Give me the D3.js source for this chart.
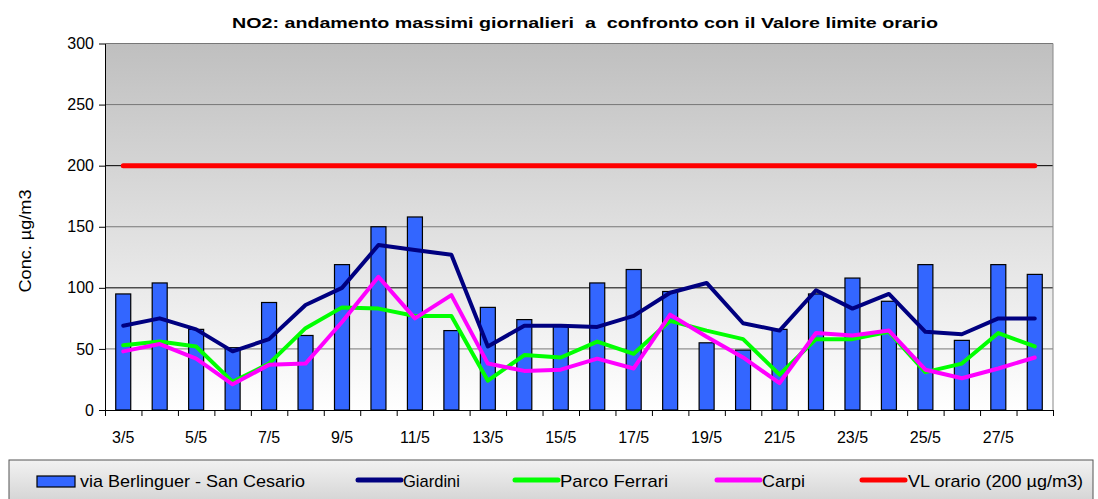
<!DOCTYPE html>
<html>
<head>
<meta charset="utf-8">
<script src="https://cdn.jsdelivr.net/npm/d3@7"></script>
<style>
  body { margin: 0; background: #fff; }
  text { font-family: Arial, "Liberation Sans", sans-serif; }
</style>
</head>
<body>
<div id="chart"></div>
<script>
const days = ['3/5','4/5','5/5','6/5','7/5','8/5','9/5','10/5','11/5','12/5','13/5','14/5','15/5',
  '16/5','17/5','18/5','19/5','20/5','21/5','22/5','23/5','24/5','25/5','26/5','27/5','28/5'];
const berlinguer = [95,104,66,51,88,61,119,150,158,65,84,74,69,104,115,97,55,49,66,95,108,89,119,57,119,111];
const giardini = [69,75,66,48,58,86,100,135,131,127,52,69,69,68,77,96,104,71,65,98,83,95,64,62,75,75];
const parcoFerrari = [53,56,52,23,38,67,84,83,77,77,24,45,43,56,46,73,65,58,29,58,58,64,31,38,63,52];
const carpi = [48,54,42,21,37,38,72,109,75,94,38,32,33,42,34,78,60,43,22,63,61,65,33,26,34,43];
const limitValue = 200;
const yTicks = [0, 50, 100, 150, 200, 250, 300];

const width = 1098, height = 499;
const margin = {top: 43.5, right: 45, bottom: 89, left: 105};
const gWidth = width - margin.left - margin.right;
const gHeight = height - margin.top - margin.bottom;

const svg = d3.select('#chart').append('svg')
  .attr('width', width)
  .attr('height', height);

// gradients for plot area and legend
const defs = svg.append('defs');
const plotGrad = defs.append('linearGradient').attr('id', 'plotBg')
  .attr('x1', 0).attr('y1', 0).attr('x2', 0).attr('y2', 1);
plotGrad.append('stop').attr('offset', '0%').attr('stop-color', '#bfbfbf');
plotGrad.append('stop').attr('offset', '100%').attr('stop-color', '#ffffff');
const legGrad = defs.append('linearGradient').attr('id', 'legBg')
  .attr('x1', 0).attr('y1', 0).attr('x2', 0).attr('y2', 1);
legGrad.append('stop').attr('offset', '0%').attr('stop-color', '#f2f2f2');
legGrad.append('stop').attr('offset', '100%').attr('stop-color', '#d2d2d2');

// title (keeps the double spaces)
svg.append('text')
  .attr('x', 585).attr('y', 28)
  .attr('text-anchor', 'middle')
  .attr('font-size', 15).attr('font-weight', 'bold')
  .style('white-space', 'pre')
  .attr('textLength', 706).attr('lengthAdjust', 'spacingAndGlyphs')
  .text('NO2: andamento massimi giornalieri  a  confronto con il Valore limite orario');

const g = svg.append('g')
  .attr('transform', `translate(${margin.left}, ${margin.top})`);

const x = d3.scaleBand().domain(days).range([0, gWidth]).padding(0);
const xIdx = d3.scaleLinear().domain([0, days.length]).range([0, gWidth]);
const y = d3.scaleLinear().domain([0, 300]).range([gHeight, 0]);

g.append('rect')
  .attr('width', gWidth).attr('height', gHeight)
  .attr('fill', 'url(#plotBg)');

// gridlines
g.selectAll('line.grid')
  .data(yTicks.filter(d => d > 0))
  .enter().append('line')
  .attr('class', 'grid')
  .attr('x1', 0).attr('x2', gWidth)
  .attr('y1', d => y(d)).attr('y2', d => y(d))
  .attr('stroke', d => (d === 100 || d === 200) ? '#000' : '#777')
  .attr('stroke-width', 1);

// right border of plot area
g.append('line')
  .attr('x1', gWidth).attr('x2', gWidth).attr('y1', 0).attr('y2', gHeight)
  .attr('stroke', '#888').attr('stroke-width', 1);

// y axis
const yAxis = g.append('g')
  .call(d3.axisLeft(y).tickValues(yTicks).tickSize(6).tickSizeOuter(0));
yAxis.select('.domain').attr('stroke', '#000');
yAxis.selectAll('text').attr('font-size', 16).attr('fill', '#000').attr('dx', '-2');

svg.append('text')
  .attr('transform', `translate(31, 241) rotate(-90)`)
  .attr('text-anchor', 'middle')
  .attr('font-size', 16)
  .attr('textLength', 103).attr('lengthAdjust', 'spacingAndGlyphs')
  .text('Conc. µg/m3');

// bars
const barW = 15;
g.selectAll('rect.bar')
  .data(berlinguer)
  .enter().append('rect')
  .attr('class', 'bar')
  .attr('x', (d, i) => x(days[i]) + (x.bandwidth() - barW) / 2)
  .attr('y', d => y(d))
  .attr('width', barW)
  .attr('height', d => gHeight - y(d))
  .attr('fill', '#3366ff')
  .attr('stroke', '#000')
  .attr('stroke-width', 1.2);

const cx = i => x(days[i]) + x.bandwidth() / 2;
const line = d3.line().x((d, i) => cx(i)).y(d => y(d));

const series = [
  {values: days.map(() => limitValue), color: '#ff0000', w: 5},
  {values: parcoFerrari, color: '#00ff00', w: 4},
  {values: giardini, color: '#000080', w: 4},
  {values: carpi, color: '#ff00ff', w: 4}
];
series.forEach(s => {
  g.append('path')
    .datum(s.values)
    .attr('d', line)
    .attr('fill', 'none')
    .attr('stroke', s.color)
    .attr('stroke-width', s.w)
    .attr('stroke-linejoin', 'round')
    .attr('stroke-linecap', 'round');
});

// x axis: ticks at band boundaries, labels every other day
const xTicks = g.append('g')
  .attr('transform', `translate(0, ${gHeight})`)
  .call(d3.axisBottom(xIdx).tickValues(d3.range(0, days.length + 1)).tickFormat('').tickSize(6).tickSizeOuter(0));
xTicks.select('.domain').attr('stroke', '#000');
const xLabels = g.append('g')
  .attr('transform', `translate(0, ${gHeight})`)
  .call(d3.axisBottom(x).tickValues(days.filter((d, i) => i % 2 === 0)).tickSize(0));
xLabels.select('.domain').remove();
xLabels.selectAll('text').attr('font-size', 16).attr('fill', '#000').attr('y', 33).attr('dy', 0);

// legend
const legend = svg.append('g');
legend.append('rect')
  .attr('x', 9).attr('y', 460).attr('width', 1084).attr('height', 45)
  .attr('fill', 'url(#legBg)')
  .attr('stroke', '#555').attr('stroke-width', 1);

const legendItems = [
  {label: 'via Berlinguer - San Cesario', color: '#3366ff', type: 'bar', sx: 37, tx: 80, tw: 225},
  {label: 'Giardini', color: '#000080', type: 'line', sx: 358, tx: 403, tw: 57},
  {label: 'Parco Ferrari', color: '#00ff00', type: 'line', sx: 515, tx: 560, tw: 108},
  {label: 'Carpi', color: '#ff00ff', type: 'line', sx: 717, tx: 762, tw: 43},
  {label: 'VL orario (200 µg/m3)', color: '#ff0000', type: 'line', sx: 862, tx: 908, tw: 175}
];
legendItems.forEach(it => {
  if (it.type === 'bar') {
    legend.append('rect')
      .attr('x', it.sx).attr('y', 476).attr('width', 38).attr('height', 11)
      .attr('fill', it.color).attr('stroke', '#000').attr('stroke-width', 1.2);
  } else {
    legend.append('line')
      .attr('x1', it.sx).attr('x2', it.sx + 43).attr('y1', 480).attr('y2', 480)
      .attr('stroke', it.color).attr('stroke-width', 5).attr('stroke-linecap', 'round');
  }
  legend.append('text')
    .attr('x', it.tx).attr('y', 487)
    .attr('font-size', 17)
    .attr('textLength', it.tw).attr('lengthAdjust', 'spacingAndGlyphs')
    .text(it.label);
});
</script>
</body>
</html>
